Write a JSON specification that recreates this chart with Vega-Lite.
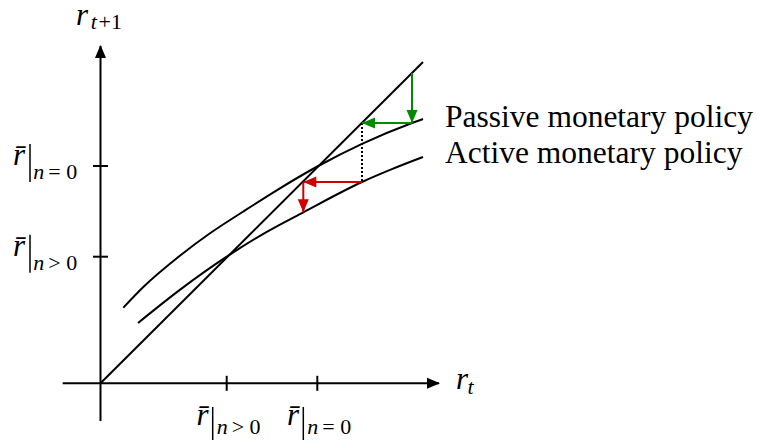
{
  "$schema": "https://vega.github.io/schema/vega-lite/v6.json",
  "width": 758,
  "height": 441,
  "autosize": {"type": "none"},
  "padding": 0,
  "background": "white",
  "config": {"view": {"stroke": null}},
  "datasets": {
    "frame": [
      {"part": "r_t axis", "x": -0.378, "y": 0, "x2": 3.385, "y2": 0},
      {"part": "r_t+1 axis", "x": 0, "y": -0.377, "x2": 0, "y2": 3.373},
      {"part": "tick r_t n>0", "x": 1.262, "y": -0.075, "x2": 1.262, "y2": 0.075},
      {"part": "tick r_t n=0", "x": 2.168, "y": -0.075, "x2": 2.168, "y2": 0.075},
      {"part": "tick r_t+1 n>0", "x": -0.075, "y": 1.266, "x2": 0.075, "y2": 1.266},
      {"part": "tick r_t+1 n=0", "x": -0.075, "y": 2.173, "x2": 0.075, "y2": 2.173}
    ],
    "curves": [
      {"curve": "45 degree", "x": 0, "y": 0},
      {"curve": "45 degree", "x": 3.225, "y": 3.213},
      {"curve": "passive", "x": 0.228, "y": 0.756},
      {"curve": "passive", "x": 0.428, "y": 0.963},
      {"curve": "passive", "x": 0.762, "y": 1.25},
      {"curve": "passive", "x": 1.095, "y": 1.5},
      {"curve": "passive", "x": 1.428, "y": 1.718},
      {"curve": "passive", "x": 1.762, "y": 1.93},
      {"curve": "passive", "x": 2.168, "y": 2.168},
      {"curve": "passive", "x": 2.615, "y": 2.395},
      {"curve": "passive", "x": 3.115, "y": 2.603},
      {"curve": "passive", "x": 3.225, "y": 2.643},
      {"curve": "active", "x": 0.375, "y": 0.603},
      {"curve": "active", "x": 0.8, "y": 0.939},
      {"curve": "active", "x": 1.262, "y": 1.266},
      {"curve": "active", "x": 1.65, "y": 1.507},
      {"curve": "active", "x": 2.028, "y": 1.71},
      {"curve": "active", "x": 2.615, "y": 2.013},
      {"curve": "active", "x": 2.92, "y": 2.144},
      {"curve": "active", "x": 3.225, "y": 2.263}
    ],
    "steps": [
      {"policy": "passive", "x": 3.115, "y": 3.103, "x2": 3.115, "y2": 2.603},
      {"policy": "passive", "x": 3.115, "y": 2.603, "x2": 2.615, "y2": 2.603},
      {"policy": "active", "x": 2.615, "y": 2.013, "x2": 2.028, "y2": 2.013},
      {"policy": "active", "x": 2.028, "y": 2.013, "x2": 2.028, "y2": 1.71}
    ],
    "links": [
      {"x": 2.615, "y": 2.603, "x2": 2.615, "y2": 2.013}
    ],
    "heads": [
      {"policy": "frame", "dir": "right", "x": 3.395, "y": 0},
      {"policy": "frame", "dir": "up", "x": 0, "y": 3.383},
      {"policy": "passive", "dir": "down", "x": 3.115, "y": 2.603},
      {"policy": "passive", "dir": "left", "x": 2.615, "y": 2.603},
      {"policy": "active", "dir": "left", "x": 2.028, "y": 2.013},
      {"policy": "active", "dir": "down", "x": 2.028, "y": 1.71}
    ],
    "mainItalic": [
      {"text": "r\u0304", "x": -0.875, "y": 2.183},
      {"text": "r\u0304", "x": -0.875, "y": 1.276},
      {"text": "r\u0304", "x": 0.959, "y": -0.417},
      {"text": "r\u0304", "x": 1.865, "y": -0.417},
      {"text": "r", "x": -0.245, "y": 3.583},
      {"text": "r", "x": 3.555, "y": -0.057}
    ],
    "bars": [
      {"x": -0.705, "y": 2.393, "y2": 2.013},
      {"x": -0.705, "y": 1.486, "y2": 1.106},
      {"x": 1.122, "y": -0.237, "y2": -0.567},
      {"x": 2.028, "y": -0.237, "y2": -0.567}
    ],
    "subItalic": [
      {"text": "n", "x": -0.672, "y": 2.043},
      {"text": "n", "x": -0.672, "y": 1.136},
      {"text": "n", "x": 1.162, "y": -0.507},
      {"text": "n", "x": 2.068, "y": -0.507},
      {"text": "t", "x": -0.098, "y": 3.548},
      {"text": "t", "x": 3.67, "y": -0.107}
    ],
    "subUpright": [
      {"text": "= 0", "x": -0.522, "y": 2.043},
      {"text": "> 0", "x": -0.522, "y": 1.136},
      {"text": "> 0", "x": 1.312, "y": -0.507},
      {"text": "= 0", "x": 2.218, "y": -0.507},
      {"text": "+1", "x": -0.02, "y": 3.548}
    ],
    "policyLabels": [
      {"text": "Passive monetary policy", "x": 3.445, "y": 2.565},
      {"text": "Active monetary policy", "x": 3.445, "y": 2.2}
    ]
  },
  "encoding": {
    "x": {"field": "x", "type": "quantitative", "scale": {"domain": [-1.005, 6.575], "nice": false, "zero": false}, "axis": null},
    "y": {"field": "y", "type": "quantitative", "scale": {"domain": [-0.577, 3.833], "nice": false, "zero": false}, "axis": null}
  },
  "layer": [
    {
      "data": {"name": "frame"},
      "mark": {"type": "rule", "color": "black", "strokeWidth": 2},
      "encoding": {"x2": {"field": "x2"}, "y2": {"field": "y2"}}
    },
    {
      "data": {"name": "curves"},
      "mark": {"type": "line", "color": "black", "strokeWidth": 2, "interpolate": "monotone"},
      "encoding": {"detail": {"field": "curve", "type": "nominal"}, "order": {"field": "x", "type": "quantitative"}}
    },
    {
      "data": {"name": "links"},
      "mark": {"type": "rule", "color": "black", "strokeWidth": 2, "strokeDash": [2, 2]},
      "encoding": {"x2": {"field": "x2"}, "y2": {"field": "y2"}}
    },
    {
      "data": {"name": "steps"},
      "mark": {"type": "rule", "strokeWidth": 2},
      "encoding": {
        "x2": {"field": "x2"},
        "y2": {"field": "y2"},
        "color": {"field": "policy", "type": "nominal", "scale": {"domain": ["frame", "passive", "active"], "range": ["#000000", "#008c00", "#d00000"]}, "legend": null}
      }
    },
    {
      "data": {"name": "heads"},
      "mark": {"type": "point", "shape": "M0,0L0.85,2L-0.85,2Z", "size": 169, "filled": true, "opacity": 1, "strokeWidth": 0},
      "encoding": {
        "color": {"field": "policy", "type": "nominal", "scale": {"domain": ["frame", "passive", "active"], "range": ["#000000", "#008c00", "#d00000"]}, "legend": null},
        "angle": {"field": "dir", "type": "nominal", "scale": {"domain": ["up", "right", "down", "left"], "range": [0, 270, 180, 90]}, "legend": null}
      }
    },
    {
      "data": {"name": "bars"},
      "mark": {"type": "rule", "color": "black", "strokeWidth": 1.5},
      "encoding": {"y2": {"field": "y2"}}
    },
    {
      "data": {"name": "mainItalic"},
      "mark": {"type": "text", "font": "Liberation Serif", "fontStyle": "italic", "fontSize": 31, "align": "left", "baseline": "alphabetic", "color": "black"},
      "encoding": {"text": {"field": "text", "type": "nominal"}}
    },
    {
      "data": {"name": "subItalic"},
      "mark": {"type": "text", "font": "Liberation Serif", "fontStyle": "italic", "fontSize": 22, "align": "left", "baseline": "alphabetic", "color": "black"},
      "encoding": {"text": {"field": "text", "type": "nominal"}}
    },
    {
      "data": {"name": "subUpright"},
      "mark": {"type": "text", "font": "Liberation Serif", "fontSize": 22, "align": "left", "baseline": "alphabetic", "color": "black"},
      "encoding": {"text": {"field": "text", "type": "nominal"}}
    },
    {
      "data": {"name": "policyLabels"},
      "mark": {"type": "text", "font": "Liberation Serif", "fontSize": 31.5, "align": "left", "baseline": "alphabetic", "color": "black"},
      "encoding": {"text": {"field": "text", "type": "nominal"}}
    }
  ]
}
